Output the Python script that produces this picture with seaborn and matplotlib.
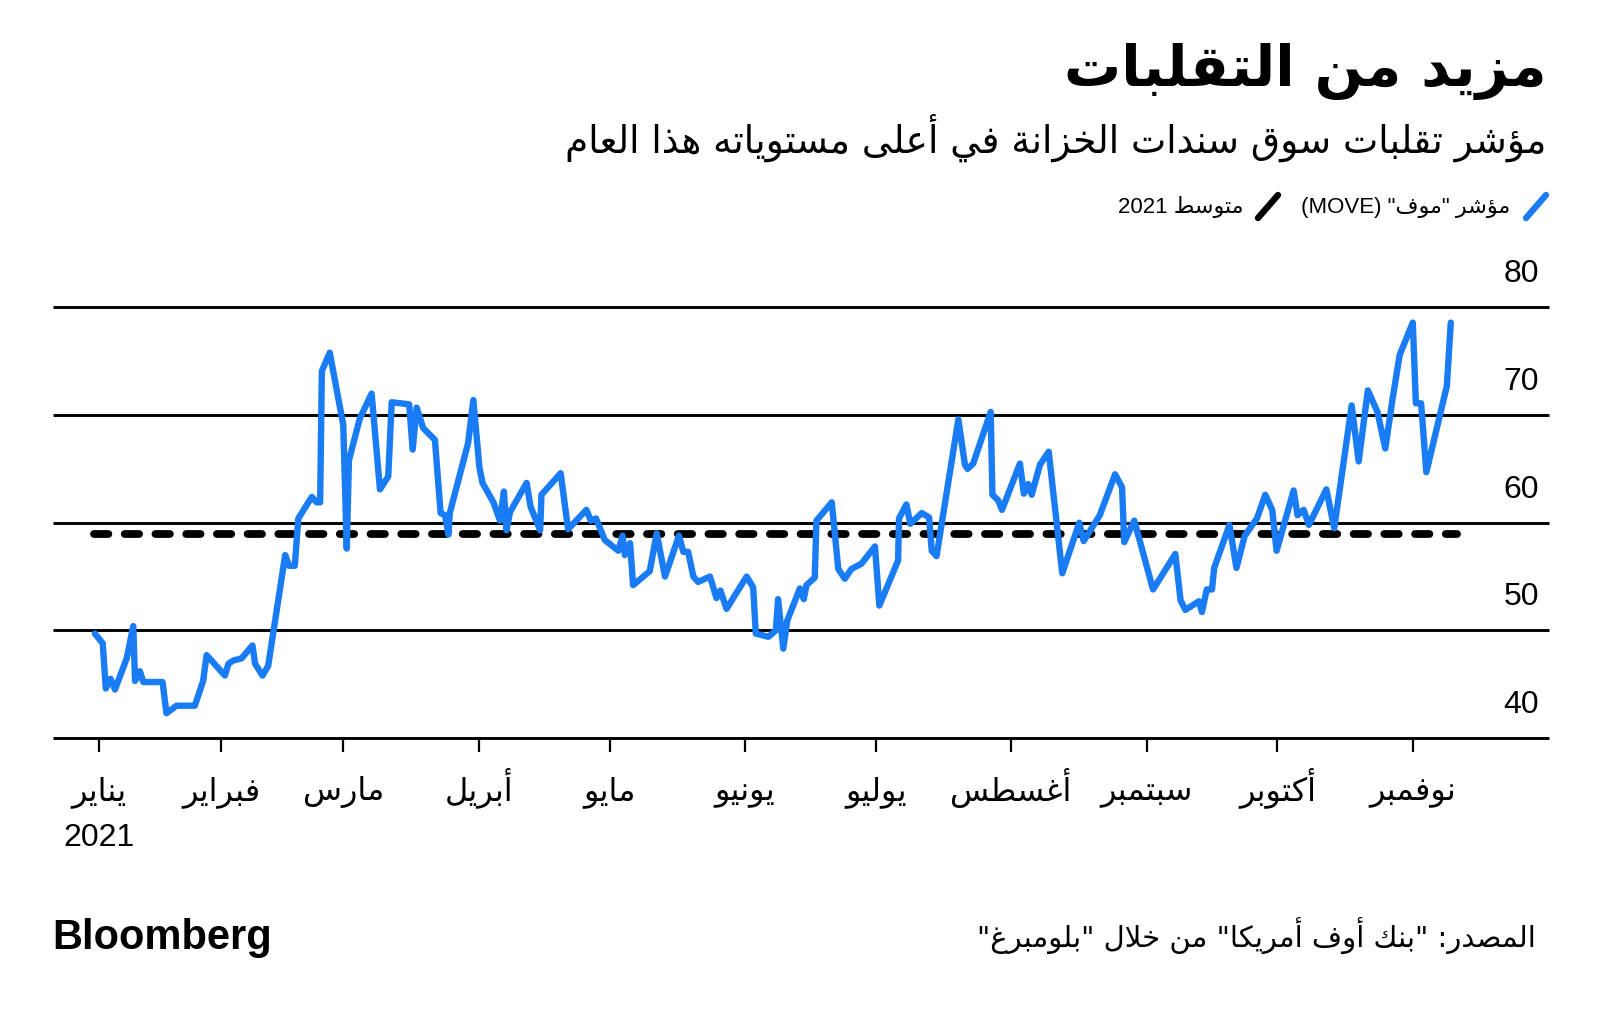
import re
import numpy as np
import pandas as pd
import matplotlib
matplotlib.use("Agg")
import matplotlib.pyplot as plt
from matplotlib.lines import Line2D
from matplotlib.transforms import ScaledTranslation
import seaborn as sns

# ---------------- data ----------------
title = "مزيد من التقلبات"
subtitle = "مؤشر تقلبات سوق سندات الخزانة في أعلى مستوياته هذا العام"
legend_move = 'مؤشر "موف" (MOVE)'
legend_mean = "متوسط 2021"
source = 'المصدر: "بنك أوف أمريكا" من خلال "بلومبرغ"'
brand = "Bloomberg"

month_labels = ["يناير", "فبراير", "مارس", "أبريل", "مايو", "يونيو",
                "يوليو", "أغسطس", "سبتمبر", "أكتوبر", "نوفمبر"]
year_label = "2021"
month_tick_dates = ["2021-01-04", "2021-02-01", "2021-03-01", "2021-04-01", "2021-05-01",
                    "2021-06-01", "2021-07-01", "2021-08-01", "2021-09-01", "2021-10-01",
                    "2021-11-01"]
y_ticks = [40, 50, 60, 70, 80]

# days elapsed since 2021-01-01
move_days = [2.1, 3.9, 4.6, 5.7, 6.7, 9.4, 10.9, 11.3, 12.4, 13.2, 17.6, 18.5, 20.8, 25.0,
             26.9, 27.7, 31.9, 32.7, 33.8, 35.7, 38.2, 38.8, 40.5, 41.8, 45.7, 46.6, 47.9,
             48.7, 51.8, 52.9, 53.7, 54.1, 55.9, 59.0, 59.8, 60.3, 62.8, 65.5, 67.4, 69.3,
             70.1, 74.1, 74.9, 75.8, 77.3, 80.0, 81.3, 82.3, 83.1, 83.4, 87.6, 88.8, 90.2,
             90.9, 93.4, 94.9, 95.8, 96.4, 97.2, 101.0, 101.9, 104.1, 104.4, 108.8, 110.5,
             114.7, 115.7, 116.9, 118.9, 122.0, 123.0, 123.5, 124.7, 125.4, 129.2, 130.8,
             132.7, 135.9, 136.9, 138.0, 139.2, 140.3, 143.0, 144.5, 145.4, 146.8, 151.4,
             152.9, 153.5, 156.4, 158.1, 158.6, 159.8, 160.7, 163.6, 164.5, 165.1, 167.0,
             167.4, 170.9, 172.4, 173.9, 175.4, 177.7, 180.8, 181.8, 186.1, 186.3, 188.0,
             188.9, 191.5, 193.2, 193.8, 194.9, 199.9, 201.4, 202.0, 203.3, 207.3, 207.7,
             209.0, 209.9, 214.0, 214.9, 215.9, 216.7, 218.6, 220.6, 223.7, 227.6, 228.6,
             232.3, 235.8, 237.4, 237.9, 240.2, 244.5, 249.6, 250.8, 251.9, 255.0, 255.7,
             256.8, 258.0, 258.5, 262.0, 263.6, 265.5, 268.3, 270.2, 271.8, 272.8, 276.7,
             277.6, 279.0, 280.2, 284.2, 286.0, 290.0, 291.6, 293.7, 295.9, 297.7, 299.4,
             301.0, 304.0, 304.7, 305.9, 307.1, 311.8, 312.7]
move_values = [49.7, 48.8, 44.6, 45.5, 44.5, 47.4, 50.4, 45.3, 46.2, 45.2, 45.2, 42.3, 43.0, 43.0,
               45.3, 47.7, 45.8, 46.9, 47.2, 47.4, 48.6, 46.9, 45.8, 46.7, 57.0, 56.0, 56.0,
               60.4, 62.4, 61.9, 61.9, 74.1, 75.8, 69.1, 57.6, 65.8, 69.7, 72.0, 63.1, 64.3,
               71.2, 71.0, 66.8, 70.7, 68.8, 67.7, 60.9, 60.7, 58.9, 60.9, 67.4, 71.4, 65.1,
               63.7, 61.9, 60.2, 62.9, 59.3, 61.0, 63.7, 61.5, 59.3, 62.6, 64.6, 59.4,
               61.2, 60.2, 60.4, 58.4, 57.4, 58.8, 57.0, 58.1, 54.2, 55.5, 59.0,
               55.0, 58.8, 57.3, 57.3, 55.0, 54.5, 55.0, 53.0, 53.7, 52.0, 55.0,
               54.0, 49.7, 49.4, 50.0, 52.9, 48.3, 50.9, 53.9, 52.9, 54.2, 54.9,
               60.2, 61.9, 55.7, 54.8, 55.7, 56.2, 57.8, 52.3, 56.5, 60.4, 61.7,
               59.9, 60.9, 60.5, 57.4, 56.9, 69.6, 65.4, 65.0, 65.5, 70.3, 62.6,
               62.1, 61.2, 65.5, 62.7, 63.6, 62.6, 65.4, 66.6, 55.3, 60.0, 58.3,
               60.7, 64.5, 63.3, 58.2, 60.2, 53.8, 57.1, 52.8, 51.9, 52.7, 51.7,
               53.8, 53.8, 55.8, 59.8, 55.8, 58.8, 60.4, 62.6, 61.2, 57.4, 63.0,
               60.7, 61.2, 59.8, 63.1, 59.5, 70.9, 65.7, 72.3, 70.3, 66.9, 71.6,
               75.6, 78.6, 71.1, 71.1, 64.7, 72.7, 78.6]
mean_2021 = 59.0

# ---------------- minimal Arabic shaping + RTL ordering ----------------
_RIGHT = {0x0622: 0xFE81, 0x0623: 0xFE83, 0x0624: 0xFE85, 0x0625: 0xFE87, 0x0627: 0xFE8D,
          0x0629: 0xFE93, 0x062F: 0xFEA9, 0x0630: 0xFEAB, 0x0631: 0xFEAD, 0x0632: 0xFEAF,
          0x0648: 0xFEED, 0x0649: 0xFEEF}
_DUAL = {0x0626: 0xFE89, 0x0628: 0xFE8F, 0x062A: 0xFE95, 0x062B: 0xFE99, 0x062C: 0xFE9D,
         0x062D: 0xFEA1, 0x062E: 0xFEA5, 0x0633: 0xFEB1, 0x0634: 0xFEB5, 0x0635: 0xFEB9,
         0x0636: 0xFEBD, 0x0637: 0xFEC1, 0x0638: 0xFEC5, 0x0639: 0xFEC9, 0x063A: 0xFECD,
         0x0641: 0xFED1, 0x0642: 0xFED5, 0x0643: 0xFED9, 0x0644: 0xFEDD, 0x0645: 0xFEE1,
         0x0646: 0xFEE5, 0x0647: 0xFEE9, 0x064A: 0xFEF1}
_LAMALEF = {0x0622: 0xFEF5, 0x0623: 0xFEF7, 0x0625: 0xFEF9, 0x0627: 0xFEFB}


def _is_ar(c):
    return c is not None and (ord(c) in _RIGHT or ord(c) in _DUAL)


def _shape(s):
    out = []
    i, n = 0, len(s)
    while i < n:
        c = s[i]
        o = ord(c)
        prev = s[i - 1] if i > 0 else None
        jp = prev is not None and ord(prev) in _DUAL
        if o == 0x0644 and i + 1 < n and ord(s[i + 1]) in _LAMALEF:
            base = _LAMALEF[ord(s[i + 1])]
            out.append(chr(base + 1 if jp else base))
            i += 2
            continue
        nxt = s[i + 1] if i + 1 < n else None
        if o in _DUAL:
            jn = _is_ar(nxt)
            b = _DUAL[o]
            if jp and jn:
                out.append(chr(b + 3))
            elif jp:
                out.append(chr(b + 1))
            elif jn:
                out.append(chr(b + 2))
            else:
                out.append(chr(b))
        elif o in _RIGHT:
            b = _RIGHT[o]
            out.append(chr(b + 1 if jp else b))
        else:
            out.append(c)
        i += 1
    return "".join(out)


_MIRROR = {"(": ")", ")": "("}


def ar(text):
    lines = []
    for line in text.split("\n"):
        sh = _shape(line)
        parts = re.split(r"([A-Za-z0-9]+)", sh)
        vis = []
        for p in reversed(parts):
            if re.fullmatch(r"[A-Za-z0-9]+", p):
                vis.append(p)
            else:
                vis.append("".join(_MIRROR.get(ch, ch) for ch in reversed(p)))
        lines.append("".join(vis))
    return "\n".join(lines)


# ---------------- figure ----------------
sns.set_theme(style="white")
plt.rcParams["font.family"] = ["Liberation Sans", "DejaVu Sans"]

W, H = 1600, 1018
fig = plt.figure(figsize=(W / 100, H / 100), dpi=100)
fig.patch.set_facecolor("white")


def fx(px):
    return px / W


def fy(py):
    return 1 - py / H


ax = fig.add_axes([fx(53), fy(738), fx(1549) - fx(53), fy(307.5) - fy(738)])
ax.set_facecolor("white")

df = pd.DataFrame({"day": move_days, "value": move_values})
jan1 = pd.Timestamp("2021-01-01")
tick_days = [(pd.Timestamp(d) - jan1).days for d in month_tick_dates]

BLUE = "#1a7cf4"

for v in y_ticks:
    ax.axhline(v, color="black", lw=2.1, zorder=1, solid_capstyle="butt", clip_on=False)

sns.lineplot(data=df, x="day", y="value", ax=ax, color=BLUE, lw=4.6, sort=False,
             estimator=None, zorder=3)
for ln in ax.lines[-1:]:
    ln.set_solid_joinstyle("round")
    ln.set_solid_capstyle("round")

ax.plot([df["day"].iloc[0] - 0.3, df["day"].iloc[-1] + 1.5], [mean_2021, mean_2021],
        color="black", lw=5.6, dashes=(1.85, 2.1), dash_capstyle="round", zorder=2)

ax.set_xlim(-7.49, 335.2)
ax.set_ylim(40, 80)
ax.set_xlabel("")
ax.set_ylabel("")
for sp in ax.spines.values():
    sp.set_visible(False)

ax.set_xticks(tick_days)
ax.set_xticklabels([ar(m) for m in month_labels], fontsize=23)
ax.tick_params(axis="x", direction="out", length=10, width=1.6, color="black",
               pad=35, labelcolor="black", bottom=True)
for lab in ax.get_xticklabels():
    lab.set_verticalalignment("baseline")
ax.set_yticks([])

# year under the first month
yr = ax.text(tick_days[0], 0, year_label, transform=ax.get_xaxis_transform(), ha="center",
             va="baseline", fontsize=23, color="black")
yr.set_transform(yr.get_transform() + ScaledTranslation(0, -1.08, fig.dpi_scale_trans))

for v in y_ticks:
    t = ax.text(0.9933, v, str(v), transform=ax.get_yaxis_transform(), ha="right",
                va="center", fontsize=23, color="black")
    t.set_transform(t.get_transform() + ScaledTranslation(0, 0.33, fig.dpi_scale_trans))

# titles
fig.text(fx(1546), fy(71), ar(title), ha="right", va="center", fontsize=41,
         fontweight="bold", family=["DejaVu Sans"], color="black")
fig.text(fx(1546), fy(138), ar(subtitle), ha="right", va="center", fontsize=27,
         family=["DejaVu Sans"], color="black")

# legend
fig.add_artist(Line2D([fx(1526), fx(1546)], [fy(218), fy(195)], color=BLUE, lw=4.6,
                      transform=fig.transFigure))
fig.text(fx(1510), fy(207), ar(legend_move), ha="right", va="center", fontsize=16,
         family=["Liberation Sans", "DejaVu Sans"], color="black")
fig.add_artist(Line2D([fx(1258), fx(1278)], [fy(218), fy(195)], color="black", lw=4.6,
                      transform=fig.transFigure))
fig.text(fx(1243), fy(207), ar(legend_mean), ha="right", va="center", fontsize=16,
         family=["Liberation Sans", "DejaVu Sans"], color="black")

# footer
fig.text(fx(1536), fy(936), ar(source), ha="right", va="center", fontsize=21,
         family=["DejaVu Sans"], color="black")
fig.text(fx(52), fy(938), brand, ha="left", va="center", fontsize=30, fontweight="bold",
         family=["Liberation Sans"], color="black")

fig.savefig("out.png", dpi=100, facecolor="white")
